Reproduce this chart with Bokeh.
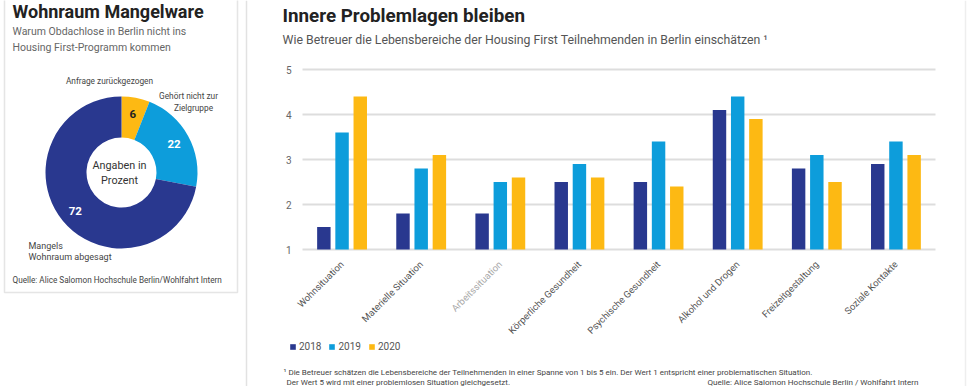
import math
from bokeh.plotting import figure
from bokeh.models import (Range1d, FactorRange, Label, LabelSet, Legend, LegendItem,
                          BoxAnnotation, Span, ColumnDataSource)
from bokeh.core.properties import value
from bokeh.layouts import row
from bokeh.transform import dodge
from bokeh.embed import file_html
from bokeh.resources import INLINE

# ---------------- data ----------------
donut_names = ["Anfrage zurückgezogen", "Gehört nicht zur Zielgruppe", "Mangels Wohnraum abgesagt"]
donut_values = [6, 22, 72]
donut_colors = ["#fdb913", "#0d9ddb", "#29388f"]

categories = ["Wohnsituation", "Materielle Situation", "Arbeitssituation",
              "Körperliche Gesundheit", "Psychische Gesundheit",
              "Alkohol und Drogen", "Freizeitgestaltung", "Soziale Kontakte"]
years = ["2018", "2019", "2020"]
v2018 = [1.5, 1.8, 1.8, 2.5, 2.5, 4.1, 2.8, 2.9]
v2019 = [3.6, 2.8, 2.5, 2.9, 3.4, 4.4, 3.1, 3.4]
v2020 = [4.4, 3.1, 2.6, 2.6, 2.4, 3.9, 2.5, 3.1]
bar_colors = ["#29388f", "#0d9ddb", "#fdb913"]
y_ticks = [1, 2, 3, 4, 5]

FONT = "Roboto"
H = 386

# ---------------- geometry of the right panel ----------------
PLOT_L, PLOT_R = 302, 935     # page x of the category band
Y1, Y5 = 249, 69              # page y of values 1 and 5
RIGHT_EDGE = 968
X0 = PLOT_L - (RIGHT_EDGE - PLOT_R)   # symmetric canvas around the band
RW = RIGHT_EDGE - X0

# ---------------- left panel (donut) ----------------
LW = X0
left = figure(width=LW, height=H, x_range=Range1d(0, LW), y_range=Range1d(-H, 0),
              x_axis_location=None, y_axis_location=None, output_backend="svg",
              toolbar_location=None, min_border=0)
left.grid.visible = False
left.outline_line_color = None
left.background_fill_color = "white"

left.add_layout(BoxAnnotation(left=4, right=237, top=5, bottom=-292,
                              fill_alpha=0, line_color="#aaaaaa", line_width=1.5))
left.add_layout(Span(location=246, dimension="height", line_color="#e2e2e2", line_width=1.5))

cx, cy, r_in, r_out = 121, -172, 35, 76
total = float(sum(donut_values))
starts, ends, mids = [], [], []
cum = 0.0
for v in donut_values:
    a0 = math.pi / 2 - 2 * math.pi * cum / total
    mids.append(math.pi / 2 - 2 * math.pi * (cum + v / 2.0) / total)
    cum += v
    a1 = math.pi / 2 - 2 * math.pi * cum / total
    starts.append(a1)
    ends.append(a0)
left.annular_wedge(x=cx, y=cy, inner_radius=r_in, outer_radius=r_out,
                   start_angle=starts, end_angle=ends, fill_color=donut_colors,
                   line_color=None)

num_colors = ["#222222", "white", "white"]
for v, m, c in zip(donut_values, mids, num_colors):
    rr = 60
    left.add_layout(Label(x=cx + rr * math.cos(m), y=cy + rr * math.sin(m), text=str(v),
                          text_align="center", text_baseline="middle",
                          text_font=FONT, text_font_size="11.5px", text_font_style="bold",
                          text_color=c))

def ltext(x, y, t, size, color, align="left", style="normal"):
    left.add_layout(Label(x=x, y=-y, text=t, text_align=align, text_baseline="middle",
                          text_font=FONT, text_font_size=size, text_font_style=style,
                          text_color=color))

ltext(12, 10.5, "Wohnraum Mangelware", "18px", "#222222", style="bold")
ltext(12, 31, "Warum Obdachlose in Berlin nicht ins", "10.5px", "#666666")
ltext(12, 47, "Housing First-Programm kommen", "10.5px", "#666666")
ltext(109, 80, "Anfrage zurückgezogen", "8.3px", "#444444", align="center")
ltext(188, 95, "Gehört nicht zur", "8.3px", "#444444", align="center")
ltext(193, 107, "Zielgruppe", "8.3px", "#444444", align="center")
ltext(28, 245, "Mangels", "9px", "#444444")
ltext(28, 256, "Wohnraum abgesagt", "9px", "#444444")
ltext(119, 165, "Angaben in", "10.8px", "#333333", align="center")
ltext(119, 180, "Prozent", "10.8px", "#333333", align="center")
ltext(12, 279, "Quelle: Alice Salomon Hochschule Berlin/Wohlfahrt Intern", "8.2px", "#444444")

# ---------------- right panel (bars) ----------------
ppc = (PLOT_R - PLOT_L) / len(categories)
pad = (PLOT_L - X0) / ppc
ppu = (Y1 - Y5) / 4.0

p = figure(width=RW, height=H,
           x_range=FactorRange(*categories, range_padding=pad, range_padding_units="absolute"),
           y_range=Range1d(1 - (H - Y1) / ppu, 5 + Y5 / ppu),
           x_axis_location=None, y_axis_location=None,
           output_backend="svg", toolbar_location=None, min_border=0)
p.outline_line_color = None
p.grid.visible = False

def XR(px):
    return (px - PLOT_L) / ppc

def YR(py):
    return 1 + (Y1 - py) / ppu

p.add_layout(Span(location=XR(965), dimension="height", line_color="#eeeeee", line_width=1.5))

# horizontal grid lines spanning the category band
p.segment(x0=[0] * len(y_ticks), x1=[len(categories)] * len(y_ticks), y0=y_ticks, y1=y_ticks,
          line_color="#dddddd", line_width=2)

# y tick labels
p.add_layout(LabelSet(source=ColumnDataSource(dict(x=[XR(291)] * len(y_ticks), y=y_ticks,
                                                   t=[str(t) for t in y_ticks])),
                      x="x", y="y", text="t", text_align="right", text_baseline="middle",
                      text_font=value(FONT), text_font_size=value("10px"),
                      text_color=value("#666666")))

src = dict(cat=categories, v2018=v2018, v2019=v2019, v2020=v2020)
renderers = []
for key, off, col in zip(["v2018", "v2019", "v2020"], [-0.23, 0.0, 0.23], bar_colors):
    r = p.vbar(x=dodge("cat", off, range=p.x_range), top=key, bottom=1, width=0.17,
               source=src, fill_color=col, line_color=None)
    renderers.append(r)

# category labels (rotated)
cat_colors = ["#555555"] * len(categories)
cat_colors[2] = "#a8a8a8"
p.add_layout(LabelSet(source=ColumnDataSource(dict(cat=categories,
                                                   y=[YR(Y1 + 13)] * len(categories),
                                                   c=cat_colors)),
                      x="cat", y="y", text="cat", angle=math.pi / 4,
                      text_align="right", text_baseline="middle",
                      text_font=value(FONT), text_font_size=value("9.5px"), text_color="c"))

legend = Legend(items=[LegendItem(label=y, renderers=[r]) for y, r in zip(years, renderers)],
                orientation="horizontal", location=(289 - X0, H - 352),
                glyph_width=7, glyph_height=7, label_standoff=3, spacing=7,
                padding=0, margin=0, border_line_color=None, background_fill_alpha=0,
                label_text_font=FONT, label_text_font_size="10px",
                label_text_color="#555555", label_height=10)
p.add_layout(legend)

def rtext(x, y, t, size, color, align="left", style="normal"):
    p.add_layout(Label(x=XR(x), y=YR(y), text=t,
                       text_align=align, text_baseline="middle", text_font=FONT,
                       text_font_size=size, text_font_style=style, text_color=color))

rtext(282, 15, "Innere Problemlagen bleiben", "18.8px", "#222222", style="bold")
rtext(282, 39, "Wie Betreuer die Lebensbereiche der Housing First Teilnehmenden in Berlin einschätzen \u00b9",
      "12.3px", "#555555")
rtext(283, 372, "\u00b9 Die Betreuer schätzen die Lebensbereiche der Teilnehmenden in einer Spanne von 1 bis 5 ein. "
      "Der Wert 1 entspricht einer problematischen Situation.", "8px", "#444444")
rtext(286, 381.5, "Der Wert 5 wird mit einer problemlosen Situation gleichgesetzt.", "8px", "#444444")
rtext(918, 381.5, "Quelle: Alice Salomon Hochschule Berlin / Wohlfahrt Intern", "8.1px", "#444444", align="right")

layout = row(left, p)
open("out.html", "w").write(file_html(layout, INLINE))
